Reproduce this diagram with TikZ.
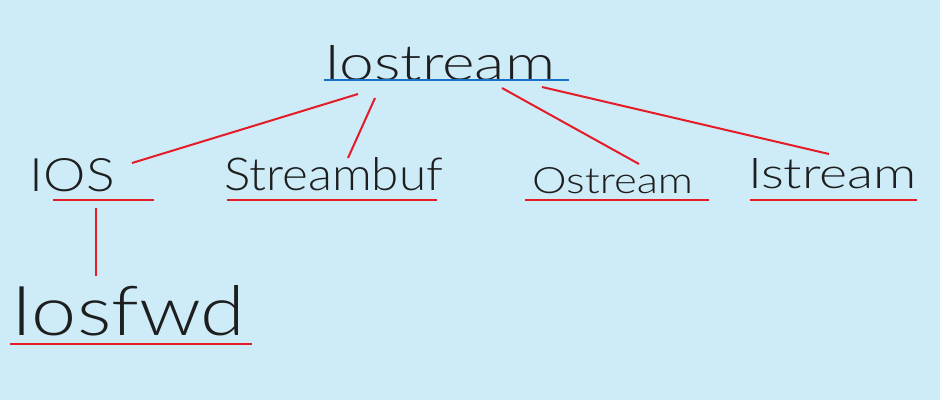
\documentclass[tikz,border=0pt]{standalone}
\usepackage{fontspec}
\setmainfont{Lato Light}
\usepackage{graphicx}
\definecolor{bgblue}{RGB}{205,236,248}
\definecolor{redline}{RGB}{228,28,40}
\definecolor{blueline}{RGB}{22,112,200}
\definecolor{ink}{RGB}{30,30,30}
\begin{document}
\begin{tikzpicture}[x=1pt,y=-1pt,
  lbl/.style={inner sep=0pt, outer sep=0pt, anchor=base west, text=ink},
  redrule/.style={draw=redline, line width=2pt},
  bluerule/.style={draw=blueline, line width=2.4pt},
  connector/.style={draw=redline, line width=2pt}]
\fill[bgblue] (0,0) rectangle (940,400);
\useasboundingbox (0,0) rectangle (940,400);

% texts
\node[lbl] (iostream) at (324,80) {\resizebox{231pt}{35pt}{Iostream}};
\node[lbl] (ios) at (30,191) {\resizebox{85pt}{33pt}{IOS}};
\node[lbl] (streambuf) at (224,190) {\resizebox{219pt}{33pt}{Streambuf}};
\node[lbl] (ostream) at (532,193) {\resizebox{161pt}{26pt}{Ostream}};
\node[lbl] (istream) at (748,188) {\resizebox{169pt}{30pt}{Istream}};
\node[lbl] (iosfwd) at (12,335) {\resizebox{233pt}{50pt}{Iosfwd}};

% underline ends
\coordinate (iostreamL) at (324,80);  \coordinate (iostreamR) at (569,80);
\coordinate (iosL) at (53,200);       \coordinate (iosR) at (154,200);
\coordinate (streambufL) at (227,200);\coordinate (streambufR) at (437,200);
\coordinate (ostreamL) at (525,200);  \coordinate (ostreamR) at (709,200);
\coordinate (istreamL) at (750,200);  \coordinate (istreamR) at (917,200);
\coordinate (iosfwdL) at (10,344);    \coordinate (iosfwdR) at (252,344);

\draw[bluerule] (iostreamL) -- (iostreamR);
\draw[redrule] (iosL) -- (iosR);
\draw[redrule] (streambufL) -- (streambufR);
\draw[redrule] (ostreamL) -- (ostreamR);
\draw[redrule] (istreamL) -- (istreamR);
\draw[redrule] (iosfwdL) -- (iosfwdR);

% connector ends
\coordinate (h1) at (358,94);  \coordinate (e1) at (132,163);
\coordinate (h2) at (375,98);  \coordinate (e2) at (348,158);
\coordinate (h3) at (502,88);  \coordinate (e3) at (639,164);
\coordinate (h4) at (542,87);  \coordinate (e4) at (829,154);
\coordinate (v1) at (96,208);  \coordinate (v2) at (96,276);

\draw[connector] (h1) -- (e1);
\draw[connector] (h2) -- (e2);
\draw[connector] (h3) -- (e3);
\draw[connector] (h4) -- (e4);
\draw[connector] (v1) -- (v2);
\end{tikzpicture}
\end{document}
